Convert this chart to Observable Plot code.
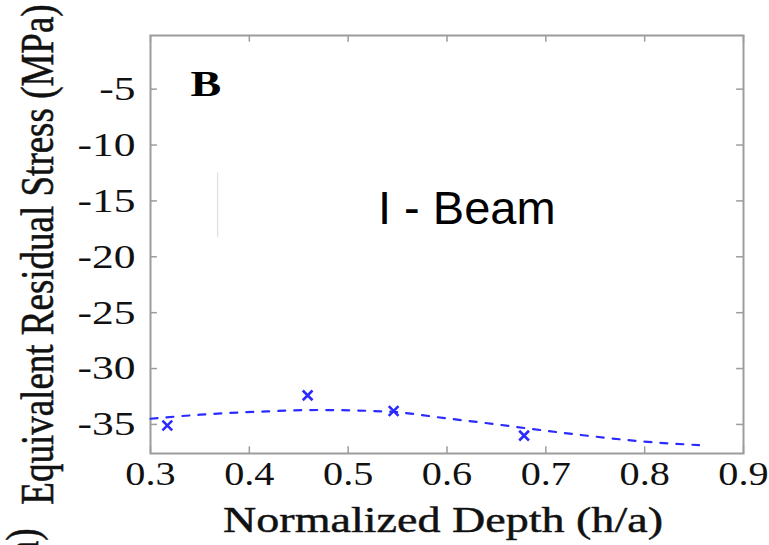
<!DOCTYPE html>
<html><head><meta charset="utf-8">
<script src="https://cdn.jsdelivr.net/npm/d3@7"></script>
<script src="https://cdn.jsdelivr.net/npm/@observablehq/plot@0.6"></script>
<style>html,body{margin:0;padding:0;background:#fff;overflow:hidden}</style>
</head><body><div id="chart"></div>
<script>
const xTicks = [0.3, 0.4, 0.5, 0.6, 0.7, 0.8, 0.9];
const yTicks = [-35, -30, -25, -20, -15, -10, -5];
const xDomain = [0.3, 0.9];
const yDomain = [-37.6, -0.2];
const measuredDepth = [0.317, 0.459, 0.546, 0.678];
const measuredStress = [-35.1, -32.4, -33.8, -36.0];
const fitDepth = [0.300, 0.350, 0.418, 0.469, 0.519, 0.546, 0.600, 0.647, 0.681, 0.748, 0.796, 0.855];
const fitStress = [-34.49, -34.13, -33.83, -33.71, -33.78, -33.88, -34.46, -34.96, -35.35, -36.07, -36.51, -36.85];
const panelLabel = ["B"];
const panelPos = [0.3405, -4.6];
const annotation = ["I - Beam"];
const annotationPos = [0.62, -15.7];
const artifactLine = [{x: 0.368, y1: -12.5, y2: -18.3}];
const xTitle = ["Normalized Depth (h/a)"];
const yTitle = ["Equivalent Residual Stress (MPa)"];
const sideLabel = ["(a)"];

const measured = measuredDepth.map((d, i) => ({x: d, y: measuredStress[i]}));
const fit = fitDepth.map((d, i) => ({x: d, y: fitStress[i]}));

const serif = "Liberation Serif, Times New Roman, serif";
const gray = "#9c9c9c";
const blue = "#2b2bff";
const ink = {fill: "#111", stroke: "#333", strokeWidth: 0.5};

const svg = Plot.plot({
  width: 769, height: 545,
  marginLeft: 150, marginRight: 26, marginTop: 35, marginBottom: 92,
  style: {fontFamily: serif, fontSize: "34px", color: "#111", background: "#fff", overflow: "visible"},
  x: {domain: xDomain, ticks: xTicks},
  y: {domain: yDomain, ticks: yTicks},
  marks: [
    Plot.ruleX(artifactLine, {x: "x", y1: "y1", y2: "y2", stroke: "#d8d8d8", strokeWidth: 1}),
    Plot.frame({stroke: gray, strokeWidth: 2}),
    Plot.ruleX(xTicks, {x: d => d, y1: yDomain[0], y2: yDomain[0] + 0.6, stroke: gray, strokeWidth: 1.5}),
    Plot.ruleX(xTicks, {x: d => d, y1: yDomain[1], y2: yDomain[1] - 0.6, stroke: gray, strokeWidth: 1.5}),
    Plot.ruleY(yTicks, {y: d => d, x1: xDomain[0], x2: xDomain[0] + 0.007, stroke: gray, strokeWidth: 1.5}),
    Plot.ruleY(yTicks, {y: d => d, x1: xDomain[1], x2: xDomain[1] - 0.007, stroke: gray, strokeWidth: 1.5}),
    Plot.axisX(xTicks, {anchor: "bottom", tickSize: 0, tickPadding: 8, tickFormat: d => d.toFixed(1), label: null, fontSize: 33, fontFamily: serif, ...ink}),
    Plot.axisY(yTicks, {anchor: "left", tickSize: 0, tickPadding: 15, tickFormat: d => String(d), label: null, fontSize: 34, fontFamily: serif, ...ink}),
    Plot.line(fit, {x: "x", y: "y", curve: "monotone-x", stroke: blue, strokeWidth: 2.2, strokeDasharray: "7,9"}),
    Plot.dot(measured, {x: "x", y: "y", symbol: "times", r: 4.5, stroke: blue, strokeWidth: 2.6}),
    Plot.text(panelLabel, {x: () => panelPos[0], y: () => panelPos[1], text: d => d, textAnchor: "start", fontWeight: "bold", fontSize: 36, fontFamily: serif, fill: "#000"}),
    Plot.text(annotation, {x: () => annotationPos[0], y: () => annotationPos[1], text: d => d, textAnchor: "middle", fontSize: 47, fontFamily: "Liberation Sans, Arial, sans-serif", fill: "#000"}),
    Plot.text(xTitle, {frameAnchor: "bottom", text: d => d, textAnchor: "middle", dx: -4, dy: 78, fontSize: 36, fontFamily: serif, ...ink}),
    Plot.text(yTitle, {frameAnchor: "left", text: d => d, rotate: -90, textAnchor: "middle", dx: -112.5, dy: 10, fontSize: 37, fontFamily: serif, ...ink}),
    Plot.text(sideLabel, {frameAnchor: "bottom-left", text: d => d, rotate: -90, textAnchor: "end", dx: -112.5, dy: 75, fontSize: 37, fontFamily: serif, ...ink})
  ]
});

// Horizontal stretch of the serif lettering, as in the reference raster
const S = 1.28;
d3.select(svg).selectAll("text").each(function () {
  if (this.textContent === annotation[0]) return;
  const t = d3.select(this);
  const tr = t.attr("transform") || "";
  const rotated = /rotate/.test(tr);
  const s = /^\d\.\d$/.test(this.textContent) ? 1.22 : S;
  t.attr("transform", (tr + (rotated ? ` scale(1,${s})` : ` scale(${s},1)`)).trim());
});

document.getElementById("chart").appendChild(svg);
</script>
</body></html>
